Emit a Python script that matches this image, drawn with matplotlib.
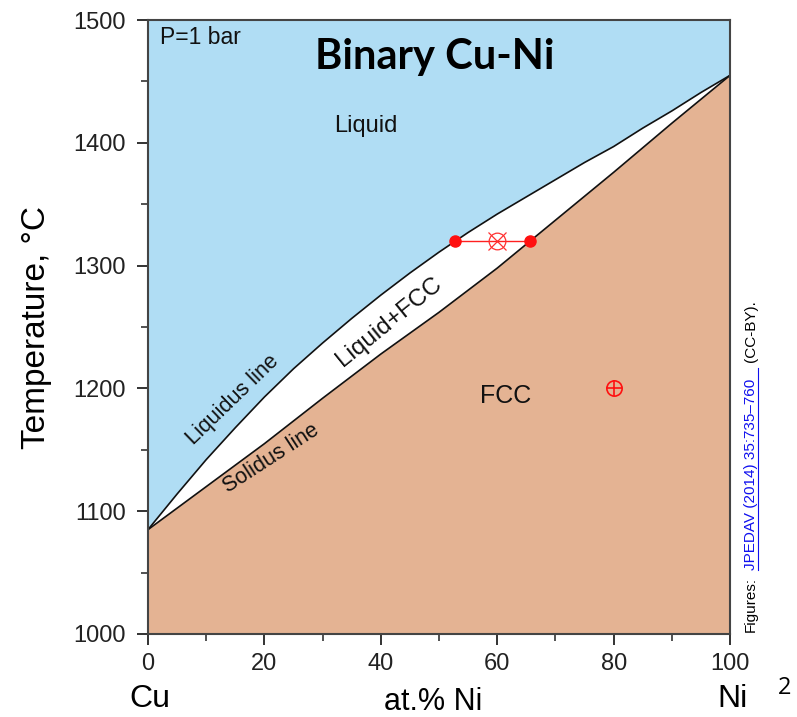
import matplotlib
matplotlib.use("Agg")
import matplotlib.pyplot as plt
from matplotlib.lines import Line2D
import numpy as np

# --- data ---
liq_x = [0, 5, 10, 15, 20, 25, 30, 35, 40, 45, 50, 55, 60, 65, 70, 75, 80, 85, 90, 95, 100]
liq_T = [1085, 1114, 1142, 1168, 1193, 1216, 1237, 1257, 1276, 1294, 1311, 1327, 1342, 1356,
         1370, 1384, 1397, 1412, 1426, 1441, 1455]
sol_x = [0, 10, 20, 30, 40, 50, 60, 70, 80, 90, 100]
sol_T = [1085, 1120, 1155, 1192, 1228, 1262, 1298, 1337, 1376, 1416, 1455]

tie_x = [52.7, 65.7]
tie_T = [1320, 1320]
overall_x, overall_T = 60, 1320
fcc_pt_x, fcc_pt_T = 80, 1200

x_ticks = [0, 20, 40, 60, 80, 100]
y_ticks = [1000, 1100, 1200, 1300, 1400, 1500]

BLUE = "#B0DDF4"
TAN = "#E4B393"

plt.rcParams["font.family"] = ["Liberation Sans", "DejaVu Sans"]

fig = plt.figure(figsize=(7.97, 7.17), dpi=100)
ax = fig.add_axes([0.1857, 0.1158, 0.916 - 0.1857, 0.972 - 0.1158])
ax.set_xlim(0, 100)
ax.set_ylim(1000, 1500)

lx = np.array(liq_x, float); lT = np.array(liq_T, float)
sx = np.array(sol_x, float); sT = np.array(sol_T, float)

ax.fill(np.concatenate([lx, [100, 0]]), np.concatenate([lT, [1500, 1500]]), color=BLUE, lw=0, zorder=1)
ax.fill(np.concatenate([sx, [100, 0]]), np.concatenate([sT, [1000, 1000]]), color=TAN, lw=0, zorder=1)
ax.plot(lx, lT, color="#111111", lw=1.2, zorder=3)
ax.plot(sx, sT, color="#111111", lw=1.2, zorder=3)

# tie line
ax.plot(tie_x, tie_T, color="#FF2020", lw=1.0, zorder=4)
ax.plot(tie_x, tie_T, "o", color="#FF1010", ms=8, zorder=5)
ax.plot([overall_x], [overall_T], "o", mfc="none", mec="#FF3030", ms=12, mew=0.9, zorder=5)
ax.plot([overall_x], [overall_T], "x", color="#FF3030", ms=13, mew=0.9, zorder=5)
ax.plot([fcc_pt_x], [fcc_pt_T], "o", mfc="none", mec="#FF1010", ms=11, mew=1.2, zorder=5)
ax.plot([fcc_pt_x], [fcc_pt_T], "+", color="#FF1010", ms=11, mew=1.2, zorder=5)

# ticks
ax.set_xticks(x_ticks)
ax.set_xticks(np.arange(10, 100, 20), minor=True)
ax.set_yticks(y_ticks)
ax.set_yticks(np.arange(1050, 1500, 100), minor=True)
ax.tick_params(which="major", direction="out", length=8, width=1.3, labelsize=17,
               colors="#222222", pad=6)
ax.tick_params(axis="y", which="major", pad=8)
ax.tick_params(which="minor", direction="out", length=5, width=1.1, colors="#222222")
for s in ax.spines.values():
    s.set_color("#444444")
    s.set_linewidth(1.5)
    s.set_zorder(6)

# text inside
ax.text(2, 1495, "P=1 bar", fontsize=16.5, va="top", ha="left", color="#111111")
ax.text(49.3, 1470, "Binary Cu-Ni", fontsize=30, fontweight="bold", family=["Lato", "DejaVu Sans"],
        ha="center", va="center", color="black")
ax.text(37.5, 1414, "Liquid", fontsize=17, ha="center", va="center", color="#111111")
ax.text(61.5, 1194, "FCC", fontsize=18, ha="center", va="center", color="#111111")
ax.text(14.6, 1191, "Liquidus line", fontsize=15.5, rotation=44, ha="center", va="center",
        rotation_mode="anchor", color="#111111")
ax.text(21.2, 1143, "Solidus line", fontsize=15.5, rotation=33, ha="center", va="center",
        rotation_mode="anchor", color="#111111")
ax.text(41.5, 1254, "Liquid+FCC", fontsize=17.5, rotation=39, ha="center", va="center",
        rotation_mode="anchor", color="#111111")

# axis labels
fig.text(0.046, 0.543, "Temperature, \u00b0C", rotation=90, fontsize=24, ha="center", va="center")
fig.text(433 / 797, 1 - 702 / 717, "at.% Ni", fontsize=22, ha="center", va="center")
fig.text(150 / 797, 1 - 707 / 717, "Cu", fontsize=23, ha="center", va="baseline")
fig.text(733 / 797, 1 - 707 / 717, "Ni", fontsize=23, ha="center", va="baseline")
fig.text(785 / 797, 1 - 688 / 717, "2", fontsize=17, ha="center", va="center",
         family=["Open Sans", "DejaVu Sans"])

# vertical credit
xc = 751 / 797
fig.text(xc, 1 - 632 / 717, "Figures:", rotation=90, fontsize=11, ha="center", va="bottom")
fig.text(xc, 1 - 570 / 717, "JPEDAV (2014) 35:735\u2013760", rotation=90, fontsize=11,
         ha="center", va="bottom", color="#1010EE")
fig.text(xc, 1 - 362 / 717, "(CC-BY).", rotation=90, fontsize=11, ha="center", va="bottom")
fig.add_artist(Line2D([757.5 / 797, 757.5 / 797], [1 - 570 / 717, 1 - 368 / 717], color="#1010EE", lw=0.8))

fig.savefig("out.png", dpi=100)
